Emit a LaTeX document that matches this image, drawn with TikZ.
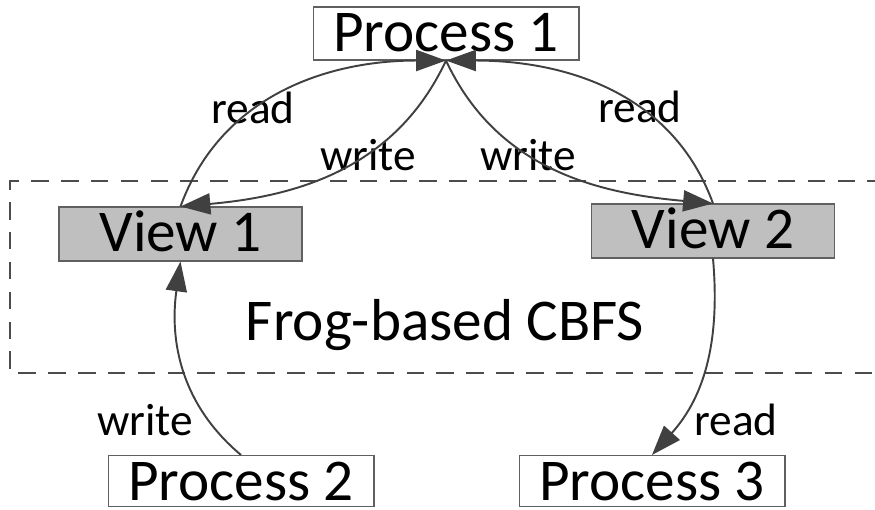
\documentclass[tikz,border=0pt]{standalone}
\usepackage{fontspec}
\setmainfont{Carlito}
\usetikzlibrary{arrows.meta}

\tikzset{
  proc/.style={draw=gray!75!black, line width=0.6pt, inner sep=0pt,
    minimum width=5.32cm, minimum height=1.06cm,
    text height=0.9cm, text depth=0.16cm,
    font=\fontsize{33.7}{40}\selectfont},
  view/.style={proc, fill=gray!50, minimum width=4.86cm,
    minimum height=1.08cm, text depth=0.18cm},
  lbl/.style={anchor=base, inner sep=0pt, font=\fontsize{25.8}{30}\selectfont},
  dashbox/.style={draw=black!70, line width=1.1pt, dash pattern=on 10pt off 7pt}
}

\begin{document}
\begin{tikzpicture}[->, x=0.02cm, y=-0.02cm,
    >={Triangle[length=17pt,width=12pt]},
    every edge/.style={draw=black!75, line width=1.1pt}]
   \useasboundingbox (0,0) rectangle (875,510);

   % the CBFS area
   \draw[dashbox,-] (885,181) -- (10,181) -- (10,373) -- (885,373);
   \node[anchor=base, inner sep=0pt, font=\fontsize{33.7}{40}\selectfont] (fs) at (445,340) {Frog-based CBFS};

   \node[proc] (p1) at (446,33.5) {Process 1};
   \node[view] (v1) at (180.5,234) {View 1};
   \node[view] (v2) at (713,231) {View 2};
   \node[proc, text depth=0.12cm, minimum height=1.02cm] (p2) at (241,481) {Process 2};
   \node[proc, text depth=0.12cm, minimum height=1.02cm] (p3) at (652,481) {Process 3};

   \node[lbl] (r1) at (253,123) {read};
   \node[lbl] (w1) at (368,170) {write};
   \node[lbl] (w2) at (528,170) {write};
   \node[lbl] (r2) at (640,122) {read};
   \node[lbl] (w3) at (145,435) {write};
   \node[lbl] (r3) at (736,435) {read};

   \path (v1.north) edge[out=70,in=180] (p1.south);
   \path (p1.south) edge[out=245,in=5] (v1.north);
   \path (v2.north) edge[out=110,in=0] (p1.south);
   \path (p1.south) edge[out=295,in=175] (v2.north);

   \path (p2.north) edge[out=140,in=262] (v1.south);
   \path (v2.south) edge[out=-85,in=48] (p3.north);
\end{tikzpicture}
\end{document}
